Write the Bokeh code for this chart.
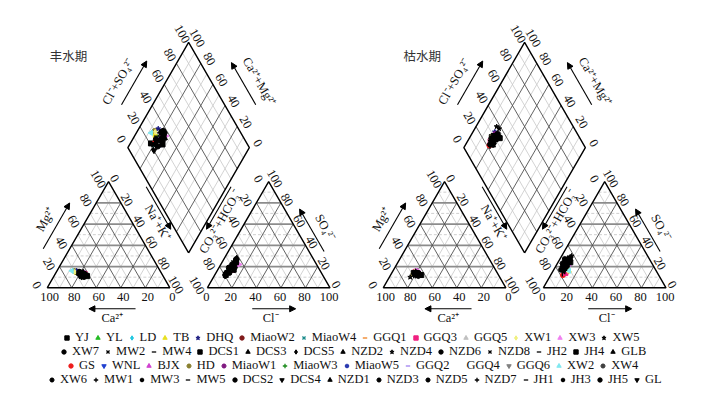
import numpy as np
from bokeh.plotting import figure
from bokeh.models import (ColumnDataSource, Arrow, NormalHead, Label, Legend,
                          LegendItem, Range1d)
from bokeh.embed import file_html
from bokeh.resources import INLINE
from bokeh.core.properties import value

# ---------------- data (percent of meq) ----------------
samples = ["YJ", "GS", "YL", "WNL", "LD", "BJX", "TB", "HD", "DHQ", "MiaoW1", "MiaoW2",
           "MiaoW3", "MiaoW4", "MiaoW5", "GGQ1", "GGQ2", "GGQ3", "GGQ4", "GGQ5", "GGQ6",
           "XW1", "XW2", "XW3", "XW4", "XW5", "XW6", "XW7", "MW1", "MW2", "MW3", "MW4",
           "MW5", "DCS1", "DCS2", "DCS3", "DCS4", "DCS5", "NZD1", "NZD2", "NZD3", "NZD4",
           "NZD5", "NZD6", "NZD7", "NZD8", "JH1", "JH2", "JH3", "JH4", "JH5", "GLB", "GL"]

# wet season (丰水期)
ca_wet = [68, 66, 67, 65, 71, 64, 69, 70, 68, 63, 64, 65, 66, 63, 64, 62, 63, 65, 64, 63,
          70, 72, 62, 62, 63, 65, 66, 64, 63, 68, 67, 66, 64, 65, 62, 67, 66, 64, 63, 65,
          62, 66, 64, 68, 65, 63, 67, 64, 62, 66, 65, 68]
mg_wet = [15, 14, 14, 13, 16, 13, 15, 16, 16, 14, 13, 12, 13, 12, 14, 13, 13, 12, 12, 11,
          15, 16, 12, 12, 13, 12, 14, 11, 12, 13, 15, 11, 13, 14, 12, 10, 12, 15, 14, 10,
          13, 13, 12, 12, 15, 11, 14, 14, 11, 15, 12, 11]
cl_wet = [9, 10, 11, 10, 10, 12, 11, 11, 12, 12, 11, 10, 9, 10, 9, 11, 12, 10, 11, 12,
          10, 9, 15, 10, 10, 9, 11, 12, 13, 8, 9, 10, 11, 10, 12, 9, 8, 10, 11, 13,
          10, 9, 11, 8, 9, 12, 10, 11, 13, 8, 10, 9]
so4_wet = [12, 15, 18, 20, 18, 20, 17, 19, 22, 21, 19, 16, 14, 17, 16, 22, 17, 18, 19, 20,
           20, 17, 22, 24, 26, 22, 24, 18, 16, 14, 20, 13, 25, 27, 23, 11, 12, 15, 21, 19,
           22, 18, 14, 16, 24, 20, 23, 26, 17, 19, 28, 15]

# dry season (枯水期)
ca_dry = [68, 66, 67, 68, 67, 66, 67, 69, 67, 65, 66, 67, 68, 66, 67, 65, 66, 68, 67, 65,
          67, 66, 64, 66, 73, 66, 65, 67, 64, 66, 68, 65, 67, 64, 66, 69, 63, 67, 65, 68,
          66, 64, 67, 65, 66, 68, 64, 67, 63, 66, 65, 67]
mg_dry = [14, 14, 15, 13, 14, 15, 14, 13, 15, 16, 14, 13, 12, 13, 12, 14, 15, 13, 12, 13,
          15, 14, 16, 12, 10, 13, 14, 12, 13, 11, 13, 12, 14, 12, 15, 12, 13, 11, 13, 14,
          14, 14, 13, 11, 12, 11, 15, 13, 12, 14, 12, 13]
cl_dry = [8, 10, 9, 8, 12, 9, 13, 7, 8, 9, 9, 10, 11, 10, 9, 10, 11, 8, 9, 10,
          12, 13, 10, 9, 8, 6, 7, 5, 8, 9, 6, 10, 7, 8, 5, 9, 6, 8, 7, 4,
          8, 9, 6, 10, 7, 9, 5, 8, 10, 4, 7, 9]
so4_dry = [20, 12, 18, 22, 15, 20, 15, 22, 25, 23, 21, 19, 17, 22, 19, 24, 14, 17, 24, 20,
           16, 16, 21, 26, 29, 24, 27, 25, 22, 18, 20, 15, 23, 26, 21, 16, 28, 19, 24, 23,
           30, 20, 17, 22, 26, 13, 25, 21, 24, 27, 18, 23]

legend_rows = [
    ["YJ", "YL", "LD", "TB", "DHQ", "MiaoW2", "MiaoW4", "GGQ1", "GGQ3", "GGQ5", "XW1", "XW3", "XW5"],
    ["XW7", "MW2", "MW4", "DCS1", "DCS3", "DCS5", "NZD2", "NZD4", "NZD6", "NZD8", "JH2", "JH4", "GLB"],
    ["GS", "WNL", "BJX", "HD", "MiaoW1", "MiaoW3", "MiaoW5", "GGQ2", "GGQ4", "GGQ6", "XW2", "XW4"],
    ["XW6", "MW1", "MW3", "MW5", "DCS2", "DCS4", "NZD1", "NZD3", "NZD5", "NZD7", "JH1", "JH3", "JH5", "GL"],
]

tick_vals = [0, 20, 40, 60, 80, 100]
grid_vals = [10, 20, 30, 40, 50, 60, 70, 80, 90]

# ---------------- styles ----------------
marker_seq = ["square", "circle", "triangle", "inverted_triangle", "diamond", "tri_left",
              "tri_right", "hex", "star", "hex", "circle", "cross", "x", "asterisk", "dash", "bar",
              "square", "circle", "triangle", "inverted_triangle", "diamond", "tri_left",
              "tri_right", "hex", "star", "hex", "circle", "cross", "x", "asterisk", "dash", "bar",
              "square", "circle", "triangle", "inverted_triangle", "diamond", "tri_left",
              "tri_right", "hex", "star", "hex", "circle", "cross", "x", "bar", "dash",
              "asterisk", "square", "circle", "triangle", "inverted_triangle"]
color_seq = ["#000000", "#ee1c1c", "#22bb22", "#1f3fd0", "#22c8e0", "#d040d0", "#e8e020",
             "#8a8030", "#1a1a80", "#801a80", "#801a1a", "#1a8a1a", "#1a8a8a", "#2a3ab0",
             "#f08020", "#a080f0", "#f02080", "#ffffff", "#c0c0c0", "#808080", "#f0f080",
             "#80e8f0", "#f080f0", "#404040"] + ["#000000"] * 28

K = 1.227            # px per unit (triangle side = 100 units)
S3 = np.sqrt(3) / 2
G = 30.5             # gap between triangles
D = 99.0             # diamond side
BX, BY = 100 + G / 2, 28.5
OFF = 336 / K        # offset of the second panel

def cat_xy(ca, mg):
    nak = 100 - ca - mg
    return nak + mg / 2, mg * S3

def an_xy(cl, so4):
    return 100 + G + cl + so4 / 2, so4 * S3

def dia_xy(a, b):  # a = Cl+SO4, b = Ca+Mg
    return BX + D / 100 * 0.5 * (a - b), BY + D / 100 * S3 * (a + b)

p = figure(width=704, height=388, x_range=Range1d(-38.06, 535.70),
           y_range=Range1d(-82.07, 234.15), output_backend="svg",
           toolbar_location=None, min_border=0, x_axis_location=None,
           y_axis_location=None)
p.grid.visible = False
p.outline_line_color = None
p.background_fill_color = "white"

FONT = "Liberation Serif"
FS = "12.5px"

L1, R1, A1 = (0.0, 0.0), (100.0, 0.0), (50.0, 100 * S3)
L2, R2, A2 = (100 + G, 0.0), (200 + G, 0.0), (150 + G, 100 * S3)
Bd, Ld, Rd, Td = dia_xy(0, 0), dia_xy(0, 100), dia_xy(100, 0), dia_xy(100, 100)

nL, nB, nR = (-S3, 0.5), (0.0, -1.0), (S3, 0.5)

def side_pt(P0, P1, t, n_px, nrm):
    return (P0[0] + t * (P1[0] - P0[0]) + n_px / K * nrm[0],
            P0[1] + t * (P1[1] - P0[1]) + n_px / K * nrm[1])

def add_lines(segs, dx, **kw):
    xs = [[a[0] + dx, b[0] + dx] for a, b in segs]
    ys = [[a[1], b[1]] for a, b in segs]
    p.multi_line(xs=xs, ys=ys, **kw)

annotations = [
    # text, P0, P1, normal, t_text, n_text, angle, t0, t1, n_arrow
    ("Mg²⁺", L1, A1, nL, 0.475, 35.5, 60, 0.26, 0.69, 23),
    ("Ca²⁺", L1, R1, nB, 0.53, 30.5, 0, 0.72, 0.34, 21),
    ("Na⁺+K⁺", A1, R1, nR, 0.49, 22, -60, 0.19, 0.59, 30),
    ("CO₃²⁻+HCO₃⁻", A2, L2, nL, 0.48, 22, 60, 0.19, 0.59, 30),
    ("Cl⁻", L2, R2, nB, 0.516, 30, 0, 0.366, 0.72, 21),
    ("SO₄²⁻", R2, A2, nR, 0.447, 26, -60, 0.28, 0.68, 13),
    ("Cl⁻+SO₄²⁻", Ld, Td, nL, 0.43, 41.5, 60, 0.28, 0.695, 27),
    ("Ca²⁺+Mg²⁺", Rd, Td, nR, 0.43, 41.5, -60, 0.28, 0.68, 27),
]

panel_titles = [("丰水期", 17.4, 189.3), ("枯水期", 31.8, 189.3)]

for pi, dx in enumerate([0.0, OFF]):
    # ---- grid ----
    light_h, dark_h, light_s, dark_s = [], [], [], []
    for x0 in (0.0, 100 + G):
        for v in grid_vals:
            h = ((x0 + v / 2, v * S3), (x0 + 100 - v / 2, v * S3))
            l = ((x0 + v, 0.0), (x0 + 50 + v / 2, (100 - v) * S3))
            r = ((x0 + 100 - v, 0.0), (x0 + (100 - v) / 2, (100 - v) * S3))
            if v % 20 == 0:
                dark_h.append(h); dark_s.extend([l, r])
            else:
                light_h.append(h); light_s.extend([l, r])
    for v in grid_vals:
        a_line = (dia_xy(v, 0), dia_xy(v, 100))
        b_line = (dia_xy(0, v), dia_xy(100, v))
        (dark_s if v % 20 == 0 else light_s).extend([a_line, b_line])
    add_lines(light_s, dx, line_color="#c8c8c8", line_width=0.8)
    add_lines(light_h, dx, line_color="#c4c4c4", line_width=0.8, line_dash="3 2")
    add_lines(dark_h, dx, line_color="#8c8c8c", line_width=1.7)
    add_lines(dark_s, dx, line_color="#505050", line_width=0.9)
    # ---- outlines ----
    for poly in ([L1, R1, A1, L1], [L2, R2, A2, L2], [Bd, Rd, Td, Ld, Bd]):
        p.line([q[0] + dx for q in poly], [q[1] for q in poly], line_color="black",
               line_width=1.4)
    # ---- tick labels ----
    specs = [
        ([(100 - v, 0.0) for v in tick_vals], 0, 2.5, 9.5),
        ([(v / 2, v * S3) for v in tick_vals], -60, -10.5, -2.5),
        ([(50 + v / 2, (100 - v) * S3) for v in tick_vals], -60, 6, -3),
        ([(100 + G + v, 0.0) for v in tick_vals], 0, -1, 9.5),
        ([(100 + G + (100 - v) / 2, (100 - v) * S3) for v in tick_vals], -60, -10.5, -2.5),
        ([(100 + G + 100 - v / 2, v * S3) for v in tick_vals], -60, 6, -3),
        ([dia_xy(v, 100) for v in tick_vals], -60, -6.5, -8.5),
        ([dia_xy(100, v) for v in tick_vals], -60, 8.5, -4.5),
    ]
    for pts, ang, ox, oy in specs:
        src = ColumnDataSource(dict(x=[q[0] + dx for q in pts], y=[q[1] for q in pts],
                                    t=[str(v) for v in tick_vals]))
        p.text(x="x", y="y", text="t", source=src, angle=np.deg2rad(ang),
               x_offset=ox, y_offset=oy, text_align="center", text_baseline="middle",
               text_font=value(FONT), text_font_size=FS, text_color="#111111")
    # ---- axis titles & arrows ----
    for txt, P0, P1, nrm, tt, nt, ang, t0, t1, na in annotations:
        tx, ty = side_pt(P0, P1, tt, nt, nrm)
        p.add_layout(Label(x=tx + dx, y=ty, text=txt, angle=np.deg2rad(ang),
                           text_align="center", text_baseline="middle",
                           text_font=FONT, text_font_size=FS, text_color="#111111"))
        sx, sy = side_pt(P0, P1, t0, na, nrm)
        ex, ey = side_pt(P0, P1, t1, na, nrm)
        p.add_layout(Arrow(x_start=sx + dx, y_start=sy, x_end=ex + dx, y_end=ey,
                           line_width=1.1, line_color="black",
                           end=NormalHead(size=6, fill_color="black", line_color="black")))
    tt_, tx_, ty_ = panel_titles[pi]
    p.add_layout(Label(x=tx_ + dx, y=ty_, text=tt_, text_align="center",
                       text_baseline="middle", text_font="Noto Sans CJK SC",
                       text_font_size="12.5px", text_color="#333333"))

# ---------------- sample points ----------------
renderers = {}
for i, name in enumerate(samples):
    xs, ys = [], []
    for dx, ca, mg, cl, so in ((0.0, ca_wet, mg_wet, cl_wet, so4_wet),
                               (OFF, ca_dry, mg_dry, cl_dry, so4_dry)):
        cx, cy = cat_xy(ca[i], mg[i])
        ax, ay = an_xy(cl[i], so[i])
        qx, qy = dia_xy(cl[i] + so[i], ca[i] + mg[i])
        xs += [cx + dx, ax + dx, qx + dx]
        ys += [cy, ay, qy]
    src = ColumnDataSource(dict(x=xs, y=ys))
    m = marker_seq[i]
    ang = 0.0
    if m == "tri_left":
        m, ang = "triangle", np.pi / 2
    elif m == "tri_right":
        m, ang = "triangle", -np.pi / 2
    elif m == "bar":
        m, ang = "dash", np.pi / 2
    c = color_seq[i]
    lw = 1.3 if m in ("x", "cross", "asterisk", "dash") else 1.0
    renderers[name] = p.scatter(x="x", y="y", source=src, marker=m, size=5, angle=ang,
                                fill_color=c, line_color=c, line_width=lw)

# ---------------- legends ----------------
legend_locs = [(61, 43.5), (58, 29), (65, 15), (46, 1.5)]
for row, loc in zip(legend_rows, legend_locs):
    items = [LegendItem(label=n, renderers=[renderers[n]]) for n in row]
    leg = Legend(items=items, orientation="horizontal", location=loc,
                 glyph_width=11, glyph_height=11, label_height=11, label_width=0,
                 label_standoff=3, spacing=3, padding=0, margin=0,
                 border_line_color=None, background_fill_alpha=0,
                 label_text_font=FONT, label_text_font_size=FS,
                 label_text_color="#111111")
    p.add_layout(leg, "center")

open("out.html", "w").write(file_html(p, INLINE))
